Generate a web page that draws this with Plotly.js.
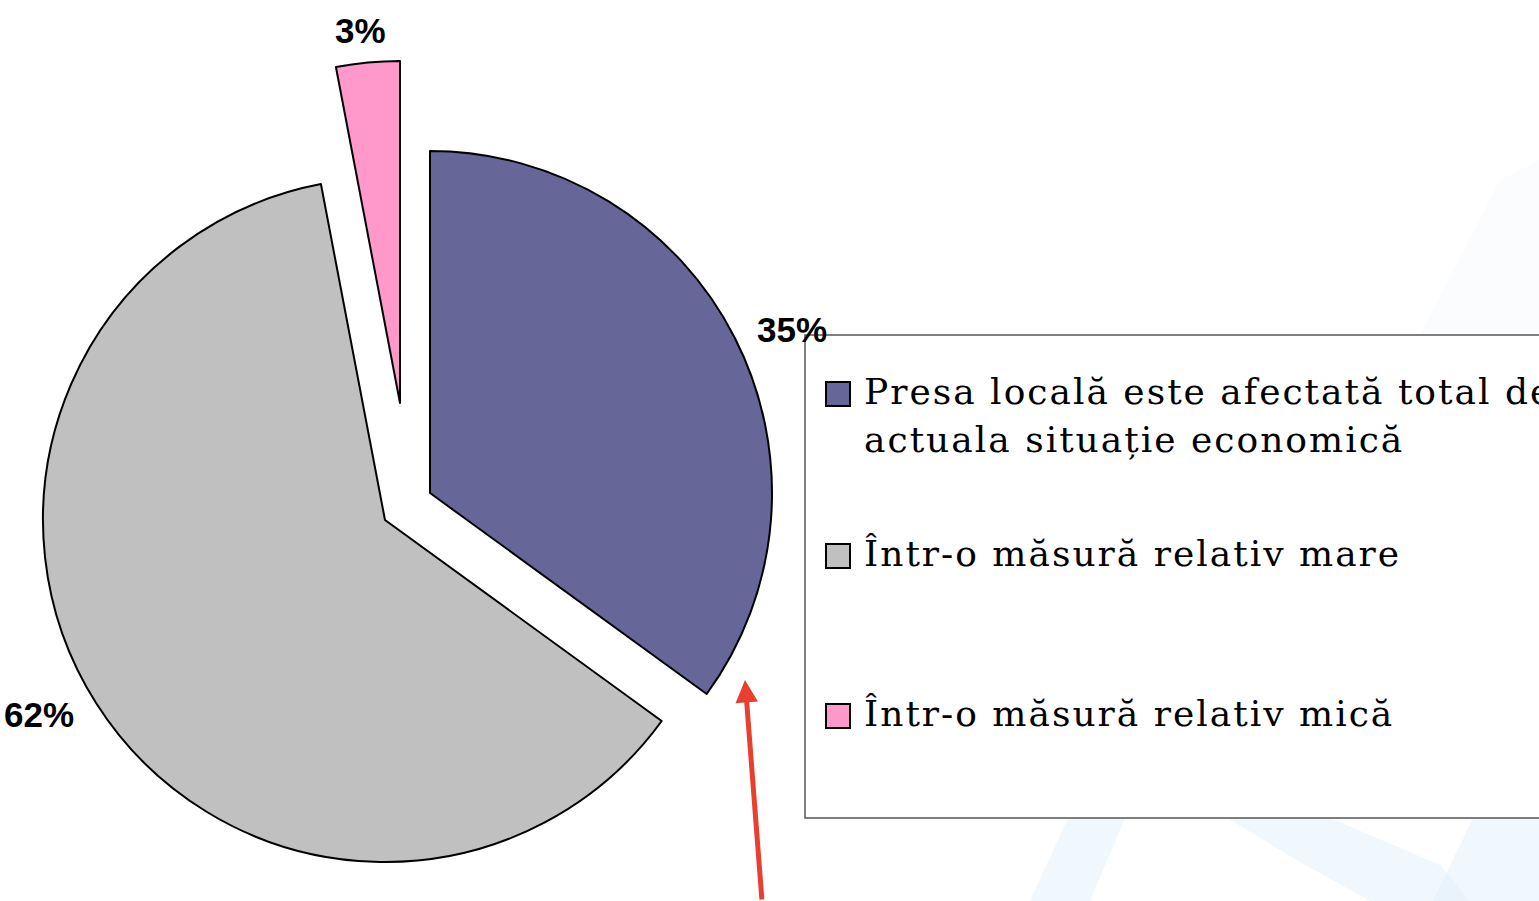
<!DOCTYPE html>
<html><head><meta charset="utf-8">
<script src="https://cdn.plot.ly/plotly-3.0.1.min.js"></script>
<style>
html,body{margin:0;padding:0;background:#fff;overflow:hidden}
#chart{width:1539px;height:901px}
text.annotation-text[style*="DejaVu Serif"]{letter-spacing:2px}
</style>
</head><body><div id="chart"></div>
<script>
// ---- data ----
const categories = ["Presa locală este afectată total de", "Într-o măsură relativ mare", "Într-o măsură relativ mică"];
const categoryLine2 = ["actuala situație economică", "", ""];
const values = [35, 62, 3];
const colors = ["#666699", "#C0C0C0", "#FF99CC"];

// ---- layout constants (pixels) ----
const W = 1539, H = 901;
const radius = 342;
const sliceCenters = [[430, 493], [385, 520], [400, 403]]; // exploded apex of each slice
const px = x => x / W, py = y => 1 - y / H;

const traces = values.map((v, i) => {
  const [cx, cy] = sliceCenters[i];
  return {
    type: 'pie',
    values: values,
    labels: categories,
    sort: false,
    direction: 'clockwise',
    rotation: 0,
    domain: {x: [px(cx - radius), px(cx + radius)], y: [py(cy + radius), py(cy - radius)]},
    marker: {
      colors: colors.map((c, j) => j === i ? c : 'rgba(0,0,0,0)'),
      line: {color: '#000000', width: values.map((_, j) => j === i ? 2 : 0)}
    },
    textinfo: 'none',
    hoverinfo: 'skip',
    showlegend: false
  };
});

const annotations = [];
// percentage labels, placed outside each slice along its (slightly widened) bisector
const total = values.reduce((a, b) => a + b, 0);
const labelFontSize = 35, labelGap = 18, labelStretch = 1.13;
let cum = 0;
values.forEach((v, i) => {
  const mid = (cum + v / 2) / total * 2 * Math.PI;
  cum += v;
  let dx = Math.sin(mid) * labelStretch, dy = -Math.cos(mid);
  const n = Math.hypot(dx, dy); dx /= n; dy /= n;
  const txt = Math.round(v / total * 100) + '%';
  const hw = (txt.length - 1) * 0.556 * labelFontSize / 2 + 0.889 * labelFontSize / 2;
  const hh = 12;
  const ext = Math.abs(dx) * hw + Math.abs(dy) * hh;
  const d = radius + labelGap + ext;
  const [cx, cy] = sliceCenters[i];
  annotations.push({
    xref: 'paper', yref: 'paper', x: px(cx + dx * d), y: py(cy + dy * d),
    xanchor: 'center', yanchor: 'middle', showarrow: false,
    text: '<b>' + txt + '</b>',
    font: {family: 'Liberation Sans, Arial, sans-serif', size: labelFontSize, color: '#000000'}
  });
});

// ---- legend (drawn manually) ----
const legendTop = 335, legendBottom = 818, legendLeft = 805;
const itemY = [391, 553, 713];
const swatchSize = 24;
const legendFont = {family: 'DejaVu Serif, serif', size: 36, color: '#000000'};

const shapes = [];
// faint background watermark bands
const bgBands = [
  ['M1068,818 L1125,818 L1090,901 L1030,901 Z', 'rgba(228,240,251,0.55)'],
  ['M1227,818 L1330,818 L1440,865 L1470,901 L1370,901 L1300,862 Z', 'rgba(228,240,251,0.55)'],
  ['M1473,818 L1539,818 L1539,901 L1433,901 Z', 'rgba(228,240,251,0.55)'],
  ['M1500,180 L1539,160 L1539,335 L1420,335 Z', 'rgba(240,246,252,0.35)']
];
bgBands.forEach(([p, c]) => shapes.push({
  type: 'path', xref: 'paper', yref: 'paper', layer: 'below',
  path: p.replace(/(\d+),(\d+)/g, (m, a, b) => px(+a) + ',' + py(+b)),
  fillcolor: c, line: {width: 0}
}));
shapes.push({
  type: 'rect', xref: 'paper', yref: 'paper', layer: 'above',
  x0: px(legendLeft), x1: px(W + 10), y0: py(legendBottom), y1: py(legendTop),
  fillcolor: '#FFFFFF', line: {color: '#555555', width: 1.5}
});
categories.forEach((lab, i) => {
  const cy = itemY[i] + 3;
  shapes.push({
    type: 'rect', xref: 'paper', yref: 'paper',
    x0: px(826), x1: px(826 + swatchSize), y0: py(cy + swatchSize / 2), y1: py(cy - swatchSize / 2),
    fillcolor: colors[i], line: {color: '#000000', width: 2}
  });
  annotations.push({
    xref: 'paper', yref: 'paper', x: px(862), y: py(itemY[i]),
    xanchor: 'left', yanchor: 'middle', showarrow: false,
    text: lab, font: legendFont, align: 'left'
  });
  if (categoryLine2[i]) {
    annotations.push({
      xref: 'paper', yref: 'paper', x: px(862), y: py(itemY[i] + 48),
      xanchor: 'left', yanchor: 'middle', showarrow: false,
      text: categoryLine2[i], font: legendFont, align: 'left'
    });
  }
});
// red arrow
annotations.push({
  xref: 'paper', yref: 'paper', x: px(745), y: py(680),
  ax: 17, ay: 230, text: '', showarrow: true,
  arrowhead: 2, arrowsize: 0.9, arrowwidth: 5, arrowcolor: '#E8402F'
});

const layout = {
  width: W, height: H,
  margin: {l: 0, r: 0, t: 0, b: 0},
  paper_bgcolor: '#FFFFFF', plot_bgcolor: '#FFFFFF',
  showlegend: false,
  shapes: shapes,
  annotations: annotations
};
Plotly.newPlot('chart', traces, layout, {displayModeBar: false, staticPlot: true});
</script>
</body></html>
